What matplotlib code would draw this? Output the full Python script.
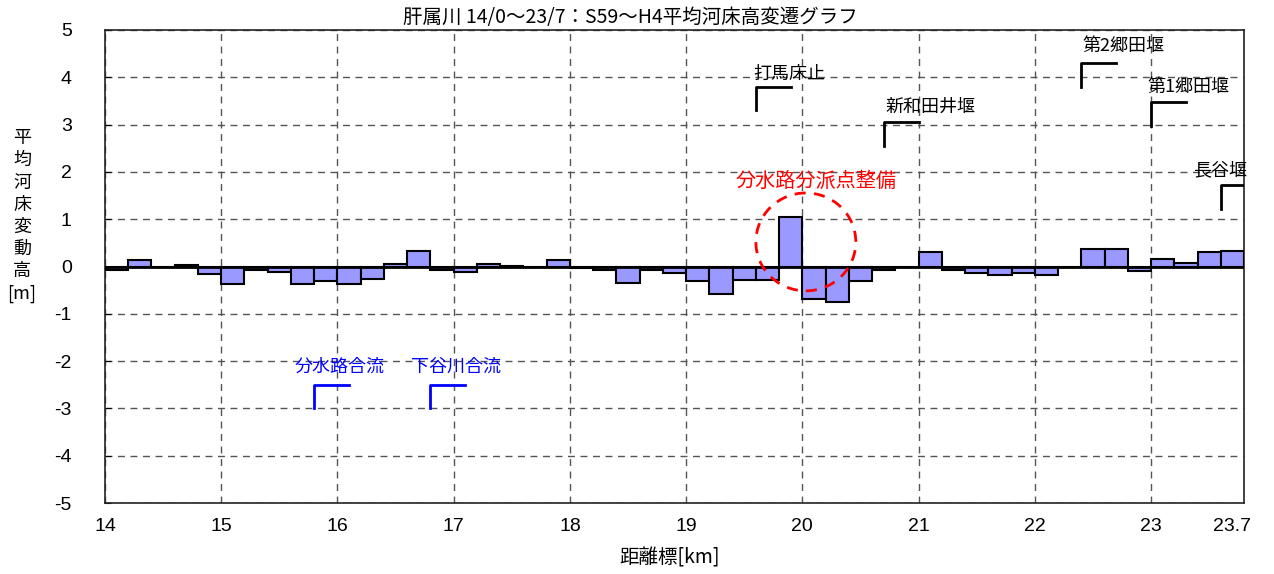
import matplotlib.pyplot as plt
from matplotlib.patches import Ellipse
import numpy as np

plt.rcParams['font.family'] = ['Noto Sans CJK JP', 'DejaVu Sans']

# 0.2 km bins starting at 14.0 km
bin_left = 14.0
bin_width = 0.2
change = [-0.08, 0.14, 0.0, 0.04, -0.16, -0.36, -0.07, -0.11, -0.36, -0.31,
          -0.36, -0.27, 0.05, 0.32, -0.07, -0.12, 0.06, 0.02, -0.02, 0.14,
          -0.03, -0.07, -0.34, -0.07, -0.14, -0.31, -0.59, -0.29, -0.28, 1.05,
          -0.69, -0.74, -0.31, -0.07, 0.0, 0.30, -0.07, -0.14, -0.18, -0.13,
          -0.17, 0.0, 0.37, 0.37, -0.10, 0.15, 0.07, 0.31, 0.33]

xticks = [14, 15, 16, 17, 18, 19, 20, 21, 22, 23, 23.7]
xtick_labels = ['14', '15', '16', '17', '18', '19', '20', '21', '22', '23', '23.7']
yticks = [-5, -4, -3, -2, -1, 0, 1, 2, 3, 4, 5]

# structures: name, bracket x, bracket bottom y, label x, label y
black_marks = [('打馬床止', 19.6, 3.3, 19.89, 4.08),
               ('新和田井堰', 20.7, 2.55, 21.10, 3.37),
               ('第2郷田堰', 22.4, 3.8, 22.76, 4.66),
               ('第1郷田堰', 23.0, 2.97, 23.32, 3.79),
               ('長谷堰', 23.6, 1.22, 23.59, 2.03)]
blue_marks = [('分水路合流', 15.8, -3.0, 16.02, -2.12),
              ('下谷川合流', 16.8, -3.0, 17.02, -2.12)]

fig = plt.figure(figsize=(12.74, 5.74), dpi=100)
ax = fig.add_axes([105 / 1274, 1 - 503 / 574, (1244 - 105) / 1274, (503 - 30) / 574])

x = bin_left + bin_width * np.arange(len(change))
ax.bar(x, change, width=bin_width, align='edge', color='#9999ff',
       edgecolor='black', linewidth=1.5, zorder=3)
ax.axhline(0, color='black', linewidth=2, zorder=4)

ax.set_xlim(14, 23.8)
ax.set_ylim(-5, 5)
ax.set_xticks(xticks)
ax.set_xticklabels(xtick_labels, fontsize=14, family='Liberation Sans')
ax.set_yticks(yticks)
ax.set_yticklabels([str(v) for v in yticks], fontsize=14, family='Liberation Sans')
ax.tick_params(axis='x', length=0, pad=11)
ax.tick_params(axis='y', direction='in', length=4, pad=24)
ax.grid(True, linestyle=(0, (5, 4)), color='#555555', linewidth=1)
ax.get_xgridlines()[-1].set_visible(False)   # no grid line at 23.7
for s in ax.spines.values():
    s.set_color('#222222')
    s.set_linewidth(1.2)

for name, mx, my, lx, ly in black_marks:
    ax.plot([mx, mx, mx + 0.3], [my, my + 0.5, my + 0.5], color='black', lw=2,
            zorder=5)
    ax.text(lx, ly, name, ha='center', va='center', fontsize=13, color='black')

for name, mx, my, lx, ly in blue_marks:
    ax.plot([mx, mx, mx + 0.3], [my, my + 0.5, my + 0.5], color='blue', lw=2, zorder=5)
    ax.text(lx, ly, name, ha='center', va='center', fontsize=13, color='blue')

ax.add_patch(Ellipse((20.03, 0.52), 0.86, 2.07, fill=False, edgecolor='red',
                     linewidth=2, linestyle=(0, (4, 3)), zorder=6))
ax.text(20.12, 1.79, '分水路分派点整備', ha='center', va='center',
        fontsize=14.5, color='red')

fig.text(630 / 1274, 1 - 17 / 574, '肝属川 14/0～23/7：S59～H4平均河床高変遷グラフ',
         ha='center', va='center', fontsize=14)
fig.text(670 / 1274, 1 - 558 / 574, '距離標[km]', ha='center', va='center', fontsize=14)
fig.text(22 / 1274, 1 - 216 / 574, '平\n均\n河\n床\n変\n動\n高\n[m]', ha='center',
         va='center', fontsize=13, linespacing=1.3)

fig.savefig('out.png', dpi=100)
